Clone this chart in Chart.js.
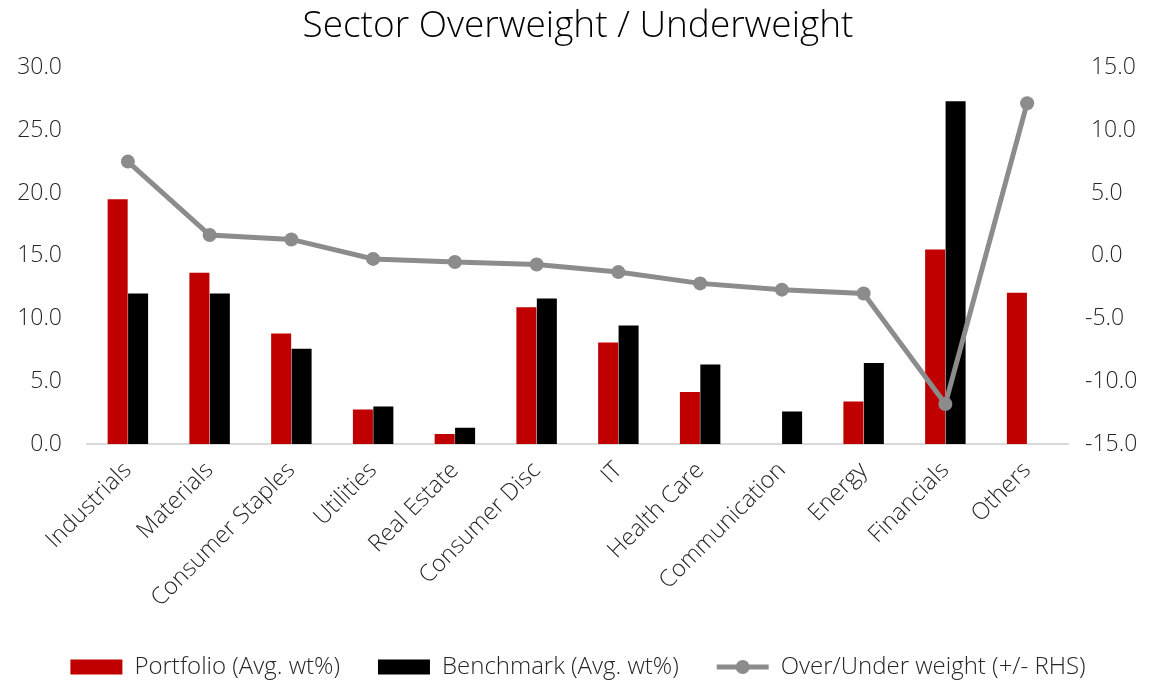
<!DOCTYPE html>
<html>
<head>
    <title>Sector Overweight / Underweight</title>
    <style>
        body {
            margin: 0;
            padding: 0;
            background-color: #FFFFFF;
        }

        #chart-container {
            width: 1155px;
            height: 682px;
        }
    </style>
</head>
<body>
    <div id="chart-container">
        <canvas id="chart" width="1155" height="682"></canvas>
    </div>

    <script src="https://cdn.jsdelivr.net/npm/chart.js"></script>
    <script>
        // Data
        var categories = ['Industrials', 'Materials', 'Consumer Staples', 'Utilities', 'Real Estate',
            'Consumer Disc', 'IT', 'Health Care', 'Communication', 'Energy', 'Financials', 'Others'];
        var portfolio = [19.5, 13.65, 8.8, 2.75, 0.8, 10.9, 8.1, 4.15, 0, 3.4, 15.5, 12.05];
        var benchmark = [12.0, 12.0, 7.6, 3.0, 1.3, 11.6, 9.45, 6.35, 2.6, 6.45, 27.3, 0];
        var overUnder = [7.5, 1.65, 1.3, -0.25, -0.5, -0.7, -1.3, -2.2, -2.7, -3.0, -11.8, 12.15];

        var seriesNames = ['Portfolio (Avg. wt%)', 'Benchmark (Avg. wt%)', 'Over/Under weight (+/- RHS)'];
        var leftTicks = [0, 5, 10, 15, 20, 25, 30];
        var rightTicks = [-15, -10, -5, 0, 5, 10, 15];

        var red = '#C00000';
        var black = '#000000';
        var grey = '#8C8C8C';
        var textColor = '#262626';

        Chart.defaults.font.family = '"Open Sans", "Liberation Sans", sans-serif';
        Chart.defaults.font.weight = '300';
        Chart.defaults.color = textColor;

        // draws the round marker in the middle of the line legend item
        var legendMarker = {
            id: 'legendMarker',
            afterDraw: function(chart) {
                var lg = chart.legend;
                if (!lg || !lg.legendHitBoxes) return;
                var ctx = chart.ctx;
                lg.legendItems.forEach(function(item, i) {
                    if (item.pointStyle !== 'line') return;
                    var box = lg.legendHitBoxes[i];
                    ctx.save();
                    ctx.fillStyle = grey;
                    ctx.beginPath();
                    ctx.arc(box.left + 26, box.top + box.height / 2, 7, 0, Math.PI * 2);
                    ctx.fill();
                    ctx.restore();
                });
            }
        };

        var ctx = document.getElementById('chart').getContext('2d');
        var chart = new Chart(ctx, {
            type: 'bar',
            data: {
                labels: categories,
                datasets: [{
                    label: seriesNames[0],
                    data: portfolio,
                    backgroundColor: red,
                    yAxisID: 'y',
                    order: 1,
                    categoryPercentage: 0.5,
                    barPercentage: 0.98
                }, {
                    label: seriesNames[1],
                    data: benchmark,
                    backgroundColor: black,
                    yAxisID: 'y',
                    order: 1,
                    categoryPercentage: 0.5,
                    barPercentage: 0.98
                }, {
                    type: 'line',
                    label: seriesNames[2],
                    data: overUnder,
                    borderColor: grey,
                    backgroundColor: grey,
                    borderWidth: 5,
                    pointRadius: 7,
                    pointHoverRadius: 7,
                    pointBackgroundColor: grey,
                    pointBorderWidth: 0,
                    tension: 0,
                    yAxisID: 'y1',
                    order: 0
                }]
            },
            options: {
                responsive: false,
                animation: false,
                layout: {
                    padding: { left: 18, right: 17, top: 4, bottom: -7 }
                },
                plugins: {
                    title: {
                        display: true,
                        text: 'Sector Overweight / Underweight',
                        color: black,
                        font: { size: 37, weight: '300' },
                        padding: { top: 0, bottom: 19 }
                    },
                    legend: {
                        position: 'bottom',
                        labels: {
                            font: { size: 24 },
                            color: textColor,
                            usePointStyle: true,
                            pointStyleWidth: 52,
                            boxHeight: 15,
                            padding: 38,
                            sort: function(a, b) { return a.datasetIndex - b.datasetIndex; },
                            generateLabels: function(chart) {
                                var items = Chart.defaults.plugins.legend.labels.generateLabels(chart);
                                items.forEach(function(item) {
                                    var ds = chart.data.datasets[item.datasetIndex];
                                    if (ds.type === 'line') {
                                        item.pointStyle = 'line';
                                        item.lineWidth = 5;
                                        item.strokeStyle = grey;
                                    } else {
                                        item.pointStyle = 'rect';
                                        item.lineWidth = 0;
                                    }
                                });
                                return items;
                            }
                        }
                    },
                    tooltip: { enabled: false }
                },
                scales: {
                    x: {
                        grid: { display: false },
                        border: { display: true, color: '#D9D9D9', width: 2 },
                        ticks: {
                            font: { size: 23.5 },
                            color: textColor,
                            minRotation: 45,
                            maxRotation: 45,
                            padding: 4.5
                        },
                        // let the first rotated label hang into the left margin like the original
                        afterFit: function(axis) {
                            axis.paddingLeft = 0;
                            axis.paddingRight = 0;
                        }
                    },
                    y: {
                        position: 'left',
                        min: leftTicks[0],
                        max: leftTicks[leftTicks.length - 1],
                        grid: { display: false, drawTicks: false },
                        border: { display: false },
                        afterBuildTicks: function(axis) {
                            axis.ticks = leftTicks.map(function(v) { return { value: v }; });
                        },
                        afterFit: function(axis) {
                            axis.width = 69;
                        },
                        ticks: {
                            font: { size: 23 },
                            color: textColor,
                            padding: 25,
                            callback: function(v) { return Number(v).toFixed(1); }
                        }
                    },
                    y1: {
                        position: 'right',
                        min: rightTicks[0],
                        max: rightTicks[rightTicks.length - 1],
                        grid: { display: false, drawTicks: false },
                        border: { display: false },
                        afterBuildTicks: function(axis) {
                            axis.ticks = rightTicks.map(function(v) { return { value: v }; });
                        },
                        afterFit: function(axis) {
                            axis.width = 70;
                        },
                        ticks: {
                            font: { size: 23 },
                            color: textColor,
                            padding: 17,
                            // positive numbers get a leading space so the digits line up, minus signs hang left
                            callback: function(v) {
                                var s = Number(v).toFixed(1);
                                return v < 0 ? s : ' ' + s;
                            }
                        }
                    }
                }
            },
            plugins: [legendMarker]
        });
    </script>
</body>
</html>
